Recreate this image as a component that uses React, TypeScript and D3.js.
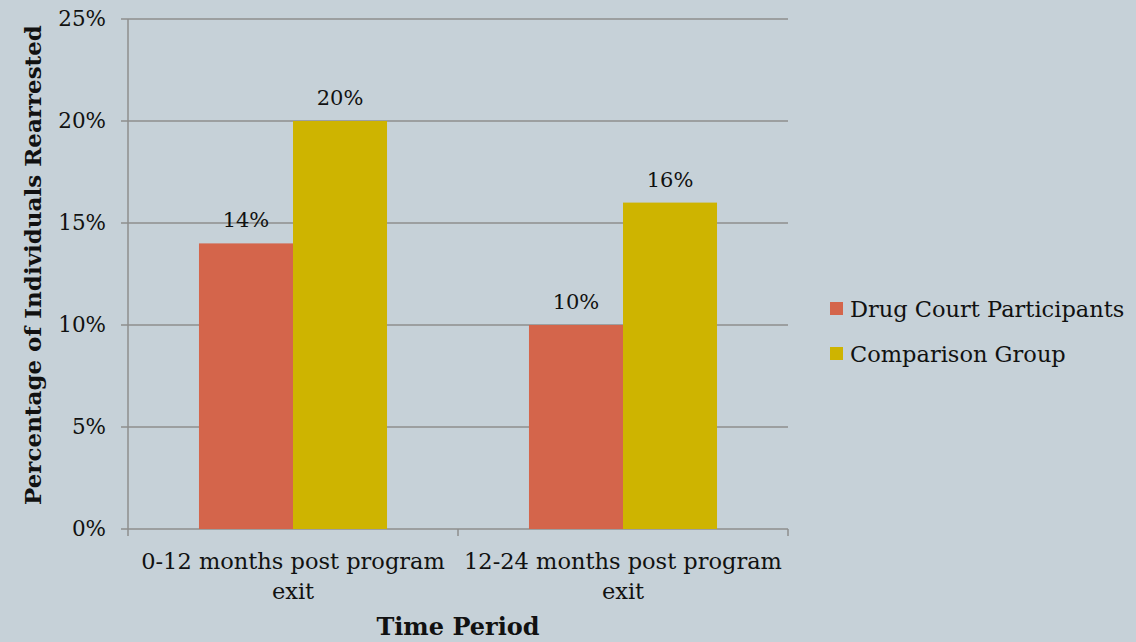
import React from "react";
import * as d3 from "d3";

const categories = ["0-12 months post program exit", "12-24 months post program exit"];
const categoryLines = [["0-12 months post program", "exit"], ["12-24 months post program", "exit"]];
const seriesNames = ["Drug Court Participants", "Comparison Group"];
const drugCourt = [14, 10];
const comparison = [20, 16];
const yTicks = [0, 5, 10, 15, 20, 25];
const colors = ["#D4654B", "#CEB400"];

const W = 1136, H = 642;
const FONT = "'DejaVu Serif', Georgia, serif";

export default function App() {
  const left = 128, right = 788, top = 19, bottom = 529;
  const x = d3.scaleBand<string>().domain(categories).range([left, right]).paddingInner(0).paddingOuter(0);
  const inner = d3.scaleBand<number>().domain([0, 1]).range([0, x.bandwidth()]).paddingInner(0).paddingOuter(0.755);
  const y = d3.scaleLinear().domain([0, 25]).range([bottom, top]);
  const series = [drugCourt, comparison];
  const grid = "#8E8E8E";
  return (
    <svg width={W} height={H} style={{ position: "fixed", left: 0, top: 0 }} fontFamily={FONT}>
      <rect width={W} height={H} fill="#C6D1D8" />
      {yTicks.map((t) => (
        <g key={t}>
          <line x1={left - 7} x2={right} y1={y(t)} y2={y(t)} stroke={grid} strokeWidth={1.5} />
          <text x={left - 22} y={y(t)} dy="0.33em" textAnchor="end" fontSize={21.5} fill="#111">{t}%</text>
        </g>
      ))}
      <line x1={left} x2={left} y1={top} y2={bottom} stroke={grid} strokeWidth={1.5} />
      {[left, ...categories.map((c) => (x(c) as number) + x.bandwidth())].map((px, i) => (
        <line key={i} x1={px} x2={px} y1={bottom} y2={bottom + 7} stroke={grid} strokeWidth={1.5} />
      ))}
      {categories.map((c, ci) => (
        <g key={c}>
          {series.map((s, si) => {
            const bx = (x(c) as number) + (inner(si) as number);
            return (
              <g key={si}>
                <rect x={bx} y={y(s[ci])} width={inner.bandwidth()} height={bottom - y(s[ci])} fill={colors[si]} />
                <text x={bx + inner.bandwidth() / 2} y={y(s[ci]) - 16} textAnchor="middle" fontSize={21} fill="#111">{s[ci]}%</text>
              </g>
            );
          })}
          {categoryLines[ci].map((ln, li) => (
            <text key={li} x={(x(c) as number) + x.bandwidth() / 2} y={569 + li * 30} textAnchor="middle" fontSize={22.5} fill="#111">{ln}</text>
          ))}
        </g>
      ))}
      <text x={(left + right) / 2} y={635} textAnchor="middle" fontSize={24} fontWeight="bold" fill="#111">Time Period</text>
      <text transform={`translate(41, 265) rotate(-90)`} textAnchor="middle" fontSize={23} fontWeight="bold" fill="#111">Percentage of Individuals Rearrested</text>
      {seriesNames.map((n, i) => (
        <g key={n}>
          <rect x={830} y={302 + i * 45} width={13} height={13} fill={colors[i]} />
          <text x={850} y={309 + i * 45} dy="0.35em" fontSize={22.5} fill="#111">{n}</text>
        </g>
      ))}
    </svg>
  );
}
